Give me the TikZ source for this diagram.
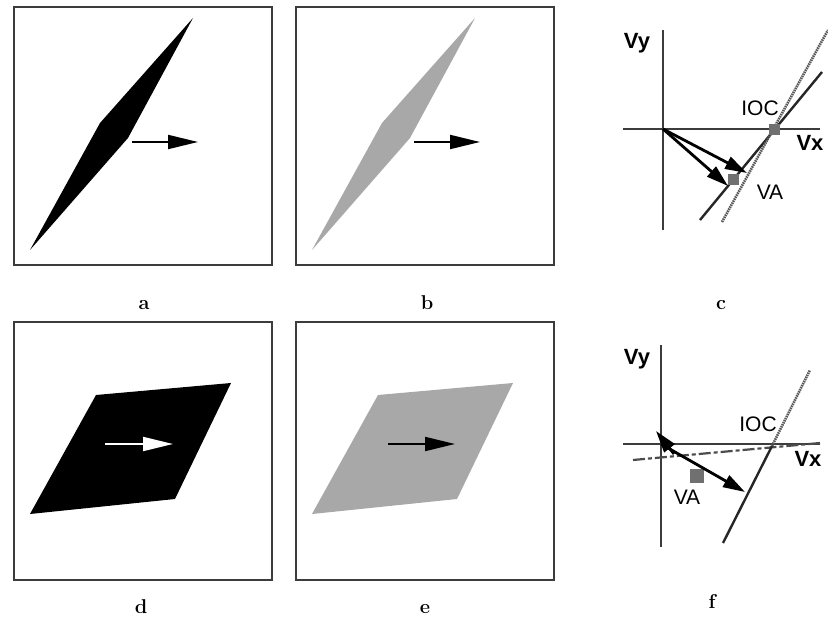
\documentclass[tikz,border=0pt]{standalone}
\usepackage{fontspec}
\usepackage{tikz}
\usetikzlibrary{arrows.meta,calc}
\newfontfamily\plotfont{Liberation Sans}
\definecolor{framegray}{HTML}{3C3C3C}
\definecolor{fillgray}{HTML}{A8A8A8}
\definecolor{markgray}{HTML}{707070}
\tikzset{
    every node/.style={font=\fontsize{20}{22}\selectfont},
    frame/.style={draw=framegray,line width=1.8pt},
    panel/.style={anchor=base,font=\fontsize{20}{22}\selectfont\bfseries},
    axis/.style={draw=framegray,line width=1.6pt},
    axlabel/.style={font=\plotfont\bfseries\fontsize{22}{24}\selectfont},
    plotlabel/.style={font=\plotfont\fontsize{21}{23}\selectfont},
    motion/.style={line width=2pt,-{Triangle[length=30pt,width=14pt]}},
    vel/.style={line width=2.8pt,-{Triangle[length=22pt,width=13pt]}},
    solidline/.style={line width=2.4pt,black!85},
    hatchline/.style={line width=2.6pt,black!65,dash pattern=on 1.5pt off 0.8pt},
    dashdotline/.style={line width=2.2pt,black!70,dash pattern=on 12pt off 3pt on 4pt off 3pt},
    marker/.style={fill=markgray,minimum size=11pt,inner sep=0pt}
}

\begin{document}
\begin{tikzpicture}[x=1pt,y=-1pt]
\useasboundingbox[fill=white] (0,0) rectangle (828,628);

% frames of the four stimulus panels
\foreach \x/\y in {14/7,296/7,14/322,296/322}
    \draw[frame] (\x,\y) rectangle ++(258,258);

% a: thin black bar
\fill[black] (30,250) -- (100,123) -- (193,18) -- (128,138) -- cycle;
\coordinate (a-start) at (132,142);
\coordinate (a-end) at (198,142);
\draw[motion] (a-start) -- (a-end);

% b: thin gray bar
\fill[fillgray] (312,250) -- (382,123) -- (475,18) -- (410,138) -- cycle;
\coordinate (b-start) at (414,142);
\coordinate (b-end) at (480,142);
\draw[motion] (b-start) -- (b-end);

% d: black rhombus, white arrow
\fill[black] (30,514) -- (96,395) -- (231,383) -- (175,499) -- cycle;
\coordinate (d-start) at (105,444);
\coordinate (d-end) at (173,444);
\draw[motion,white] (d-start) -- (d-end);

% e: gray rhombus
\fill[fillgray] (312,514) -- (378,395) -- (513,383) -- (457,499) -- cycle;
\coordinate (e-start) at (388,444);
\coordinate (e-end) at (455,444);
\draw[motion] (e-start) -- (e-end);

% c: velocity space
\coordinate (c-o) at (663,129);
\draw[axis] (663,30) -- (663,230);
\draw[axis] (623,129) -- (820,129);
\draw[solidline] (700,220) -- (822,72);
\draw[hatchline] (722,222) -- (828,30);
\node[marker] (c-ioc) at (774,130) {};
\node[marker] (c-va) at (733,180) {};
\coordinate (c-v1) at (747,173);
\coordinate (c-v2) at (728,186);
\draw[vel] (c-o) -- (c-v1);
\draw[vel] (c-o) -- (c-v2);
\node[axlabel] (c-vy) at (637,43) {Vy};
\node[axlabel] (c-vx) at (810,143) {Vx};
\node[plotlabel] (c-ioclabel) at (760,108) {IOC};
\node[plotlabel] (c-valabel) at (770,192) {VA};

% f: velocity space
\coordinate (f-o) at (661,444);
\draw[axis] (661,345) -- (661,547);
\draw[axis] (623,444) -- (820,444);
\draw[dashdotline] (633,460) -- (820,443);
\draw[solidline] (723,543) -- (772,446);
\draw[hatchline] (772,446) -- (810,370);
\node[marker,minimum size=14pt] (f-va) at (697,476) {};
\coordinate (f-v) at (745,492);
\coordinate (f-tail) at (674,454);
\coordinate (f-tip) at (656,431);
\draw[vel] (f-o) -- (f-v);
\draw[vel] (f-tail) -- (f-tip);
\node[axlabel] (f-vy) at (637,359) {Vy};
\node[axlabel] (f-vx) at (808,459) {Vx};
\node[plotlabel] (f-ioclabel) at (758,424) {IOC};
\node[plotlabel] (f-valabel) at (687,497) {VA};

% panel letters
\node[panel] (lab-a) at (144,310) {a};
\node[panel] (lab-b) at (427,310) {b};
\node[panel] (lab-c) at (721,310) {c};
\node[panel] (lab-d) at (141,613) {d};
\node[panel] (lab-e) at (425,613) {e};
\node[panel] (lab-f) at (712,608) {f};
\end{tikzpicture}
\end{document}
